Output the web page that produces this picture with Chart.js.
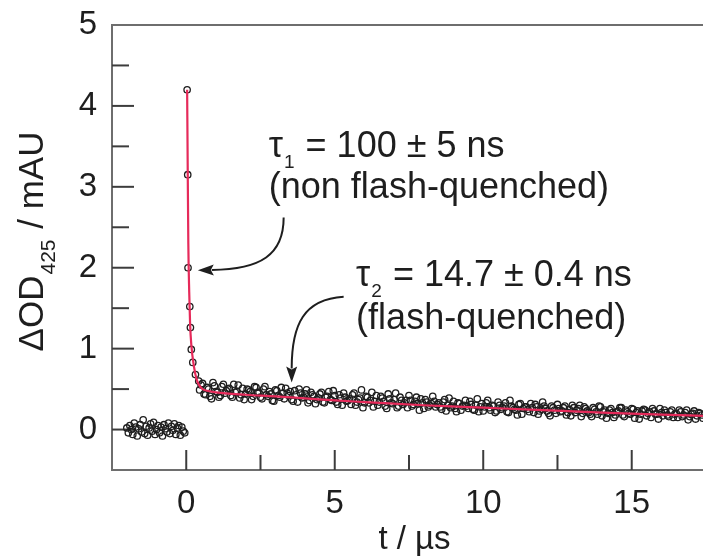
<!DOCTYPE html>
<html>
<head>
<meta charset="utf-8">
<title>Transient absorption decay at 425 nm</title>
<script src="https://cdn.jsdelivr.net/npm/chart.js@4.4.1/dist/chart.umd.min.js"></script>
<style>
  html, body { margin: 0; padding: 0; background: #fff; }
  #wrap { width: 703px; height: 558px; }
</style>
</head>
<body>
<div id="wrap"><canvas id="decay" width="703" height="558"></canvas></div>
<script>
// --- measured trace (t in µs, ΔOD in mAU) ---

// pre-flash baseline
const tBase = [
  -2.0, -1.95, -1.9, -1.85, -1.8, -1.75, -1.7, -1.65, -1.6, -1.55,
  -1.5, -1.45, -1.4, -1.35, -1.3, -1.25, -1.2, -1.15, -1.1, -1.05,
  -1.0, -0.95, -0.9, -0.85, -0.8, -0.75, -0.7, -0.65, -0.6, -0.55,
  -0.5, -0.45, -0.4, -0.35, -0.3, -0.25, -0.2, -0.15, -0.1, -0.05
];
const odBase = [
  0.02, -0.04, 0.05, 0.0, -0.06, 0.08, 0.03, -0.08, 0.01, 0.06,
  -0.03, 0.12, -0.05, 0.04, -0.07, 0.02, 0.07, -0.02, 0.09, -0.06,
  0.0, 0.05, -0.04, 0.03, -0.08, 0.06, 0.01, -0.03, 0.08, -0.05,
  0.04, -0.01, 0.07, -0.06, 0.02, 0.05, -0.07, 0.03, -0.02, -0.04
];

// fast component right after the flash
const tFast = [0.03, 0.05, 0.06, 0.12, 0.14, 0.17, 0.22, 0.31, 0.42];
const odFast = [4.2, 3.15, 2.0, 1.52, 1.26, 0.99, 0.83, 0.68, 0.6];

// slow tail, first channel (whole tenths)
const tTailA = [
  0.5, 0.6, 0.7, 0.8, 0.9, 1.0, 1.1, 1.2, 1.3, 1.4,
  1.5, 1.6, 1.7, 1.8, 1.9, 2.0, 2.1, 2.2, 2.3, 2.4,
  2.5, 2.6, 2.7, 2.8, 2.9, 3.0, 3.1, 3.2, 3.3, 3.4,
  3.5, 3.6, 3.7, 3.8, 3.9, 4.0, 4.1, 4.2, 4.3, 4.4,
  4.5, 4.6, 4.7, 4.8, 4.9, 5.0, 5.1, 5.2, 5.3, 5.4,
  5.5, 5.6, 5.7, 5.8, 5.9, 6.0, 6.1, 6.2, 6.3, 6.4,
  6.5, 6.6, 6.7, 6.8, 6.9, 7.0, 7.1, 7.2, 7.3, 7.4,
  7.5, 7.6, 7.7, 7.8, 7.9, 8.0, 8.1, 8.2, 8.3, 8.4,
  8.5, 8.6, 8.7, 8.8, 8.9, 9.0, 9.1, 9.2, 9.3, 9.4,
  9.5, 9.6, 9.7, 9.8, 9.9, 10.0, 10.1, 10.2, 10.3, 10.4,
  10.5, 10.6, 10.7, 10.8, 10.9, 11.0, 11.1, 11.2, 11.3, 11.4,
  11.5, 11.6, 11.7, 11.8, 11.9, 12.0, 12.1, 12.2, 12.3, 12.4,
  12.5, 12.6, 12.7, 12.8, 12.9, 13.0, 13.1, 13.2, 13.3, 13.4,
  13.5, 13.6, 13.7, 13.8, 13.9, 14.0, 14.1, 14.2, 14.3, 14.4,
  14.5, 14.6, 14.7, 14.8, 14.9, 15.0, 15.1, 15.2, 15.3, 15.4,
  15.5, 15.6, 15.7, 15.8, 15.9, 16.0, 16.1, 16.2, 16.3, 16.4,
  16.5, 16.6, 16.7, 16.8, 16.9, 17.0, 17.1, 17.2, 17.3, 17.4
];
const odTailA = [
  0.55, 0.44, 0.52, 0.41, 0.58, 0.47, 0.40, 0.53, 0.45, 0.50,
  0.42, 0.56, 0.47, 0.39, 0.51, 0.44, 0.49, 0.37, 0.53, 0.45,
  0.40, 0.50, 0.43, 0.47, 0.36, 0.49, 0.42, 0.52, 0.38, 0.45,
  0.47, 0.35, 0.43, 0.50, 0.39, 0.44, 0.33, 0.46, 0.41, 0.37,
  0.44, 0.34, 0.40, 0.47, 0.36, 0.42, 0.31, 0.39, 0.45, 0.35,
  0.38, 0.43, 0.30, 0.37, 0.49, 0.33, 0.40, 0.36, 0.28, 0.42,
  0.34, 0.39, 0.29, 0.44, 0.33, 0.37, 0.27, 0.40, 0.31, 0.36,
  0.42, 0.29, 0.35, 0.32, 0.38, 0.26, 0.34, 0.30, 0.41, 0.28,
  0.33, 0.25, 0.37, 0.30, 0.27, 0.35, 0.22, 0.32, 0.29, 0.36,
  0.26, 0.31, 0.24, 0.38, 0.28, 0.23, 0.33, 0.27, 0.30, 0.21,
  0.34, 0.25, 0.29, 0.22, 0.36, 0.27, 0.24, 0.31, 0.19, 0.28,
  0.25, 0.32, 0.21, 0.28, 0.23, 0.34, 0.26, 0.20, 0.29, 0.24,
  0.31, 0.22, 0.27, 0.18, 0.25, 0.30, 0.21, 0.26, 0.16, 0.28,
  0.23, 0.19, 0.27, 0.22, 0.29, 0.17, 0.24, 0.20, 0.26, 0.15,
  0.22, 0.27, 0.18, 0.24, 0.20, 0.26, 0.14, 0.23, 0.19, 0.25,
  0.17, 0.22, 0.26, 0.19, 0.13, 0.21, 0.24, 0.18, 0.22, 0.15,
  0.20, 0.24, 0.16, 0.21, 0.12, 0.19, 0.23, 0.17, 0.20, 0.14
];

// slow tail, second channel (half-tenth offsets)
const tTailB = [
  0.45, 0.55, 0.65, 0.75, 0.85, 0.95, 1.05, 1.15, 1.25, 1.35,
  1.45, 1.55, 1.65, 1.75, 1.85, 1.95, 2.05, 2.15, 2.25, 2.35,
  2.45, 2.55, 2.65, 2.75, 2.85, 2.95, 3.05, 3.15, 3.25, 3.35,
  3.45, 3.55, 3.65, 3.75, 3.85, 3.95, 4.05, 4.15, 4.25, 4.35,
  4.45, 4.55, 4.65, 4.75, 4.85, 4.95, 5.05, 5.15, 5.25, 5.35,
  5.45, 5.55, 5.65, 5.75, 5.85, 5.95, 6.05, 6.15, 6.25, 6.35,
  6.45, 6.55, 6.65, 6.75, 6.85, 6.95, 7.05, 7.15, 7.25, 7.35,
  7.45, 7.55, 7.65, 7.75, 7.85, 7.95, 8.05, 8.15, 8.25, 8.35,
  8.45, 8.55, 8.65, 8.75, 8.85, 8.95, 9.05, 9.15, 9.25, 9.35,
  9.45, 9.55, 9.65, 9.75, 9.85, 9.95, 10.05, 10.15, 10.25, 10.35,
  10.45, 10.55, 10.65, 10.75, 10.85, 10.95, 11.05, 11.15, 11.25, 11.35,
  11.45, 11.55, 11.65, 11.75, 11.85, 11.95, 12.05, 12.15, 12.25, 12.35,
  12.45, 12.55, 12.65, 12.75, 12.85, 12.95, 13.05, 13.15, 13.25, 13.35,
  13.45, 13.55, 13.65, 13.75, 13.85, 13.95, 14.05, 14.15, 14.25, 14.35,
  14.45, 14.55, 14.65, 14.75, 14.85, 14.95, 15.05, 15.15, 15.25, 15.35,
  15.45, 15.55, 15.65, 15.75, 15.85, 15.95, 16.05, 16.15, 16.25, 16.35,
  16.45, 16.55, 16.65, 16.75, 16.85, 16.95, 17.05, 17.15, 17.25, 17.35
];
const odTailB = [
  0.49, 0.57, 0.43, 0.50, 0.38, 0.54, 0.46, 0.42, 0.56, 0.48,
  0.51, 0.40, 0.46, 0.55, 0.43, 0.37, 0.50, 0.47, 0.41, 0.52,
  0.46, 0.38, 0.53, 0.41, 0.44, 0.35, 0.48, 0.40, 0.45, 0.51,
  0.42, 0.37, 0.48, 0.34, 0.45, 0.40, 0.49, 0.36, 0.43, 0.32,
  0.39, 0.46, 0.33, 0.41, 0.37, 0.48, 0.34, 0.43, 0.30, 0.40,
  0.36, 0.31, 0.45, 0.34, 0.39, 0.27, 0.41, 0.33, 0.46, 0.35,
  0.30, 0.41, 0.35, 0.26, 0.38, 0.32, 0.45, 0.29, 0.36, 0.33,
  0.27, 0.36, 0.31, 0.40, 0.24, 0.33, 0.37, 0.28, 0.32, 0.35,
  0.31, 0.28, 0.34, 0.23, 0.39, 0.29, 0.26, 0.33, 0.24, 0.30,
  0.29, 0.35, 0.25, 0.30, 0.22, 0.32, 0.28, 0.36, 0.24, 0.29,
  0.23, 0.30, 0.27, 0.33, 0.21, 0.29, 0.25, 0.18, 0.32, 0.26,
  0.28, 0.22, 0.27, 0.31, 0.19, 0.25, 0.29, 0.23, 0.17, 0.27,
  0.20, 0.26, 0.23, 0.29, 0.21, 0.17, 0.27, 0.24, 0.30, 0.20,
  0.26, 0.21, 0.16, 0.25, 0.19, 0.28, 0.22, 0.14, 0.24, 0.21,
  0.18, 0.23, 0.27, 0.16, 0.22, 0.19, 0.25, 0.21, 0.13, 0.23,
  0.24, 0.20, 0.15, 0.23, 0.19, 0.26, 0.17, 0.21, 0.16, 0.24,
  0.19, 0.15, 0.22, 0.18, 0.24, 0.16, 0.20, 0.13, 0.21, 0.18
];

// biexponential fit curve
const tFit = [0.03, 0.05, 0.07, 0.1, 0.13, 0.17, 0.25, 0.35, 0.45, 0.55, 0.7, 1, 2, 3, 4, 5, 6, 8, 10, 12, 14, 16, 17.4];
const odFit = [4.2, 3.2, 2.3, 1.7, 1.3, 1.05, 0.8, 0.62, 0.54, 0.5, 0.48, 0.46, 0.43, 0.41, 0.385, 0.36, 0.34, 0.30, 0.27, 0.24, 0.21, 0.185, 0.17];

// axis ranges and tick steps
const xRange = [-2.5, 17.4];
const yRange = [-0.5, 5];
const xStep = 2.5;
const yStep = 0.5;

// annotation text anchors (data units, left/baseline) and arrows [start, ctrl1, ctrl2, tip]
const tau1Anchor = [2.78, 3.37];
const tau1Note = [2.78, 2.86];
const tau2Anchor = [5.72, 1.77];
const tau2Note = [5.72, 1.24];
const arrowNonFQ = [[3.28, 2.62], [3.28, 2.16], [2.51, 1.98], [0.39, 1.97]];
const arrowFQ = [[5.30, 1.64], [3.96, 1.61], [3.55, 1.30], [3.55, 0.58]];

const FONT = '"Liberation Sans", Arial, Helvetica, sans-serif';
const INK = '#1e1e1e';
const FIT_RED = '#e62a5a';
const NOTE_SIZE = 36;

const pairs = (xs, ys) => xs.map((x, i) => ({ x, y: ys[i] }));

// text with a subscript run in the middle, returns the end x
function subText(ctx, x, y, main, sub, rest, size, subSize, drop) {
    ctx.font = `${size}px ${FONT}`;
    ctx.fillText(main, x, y);
    x += ctx.measureText(main).width + 1;
    ctx.font = `${subSize}px ${FONT}`;
    ctx.fillText(sub, x, y + drop);
    x += ctx.measureText(sub).width + 1;
    ctx.font = `${size}px ${FONT}`;
    ctx.fillText(rest, x, y);
    return x + ctx.measureText(rest).width;
}

function curvedArrow(ctx, xs, ys, pts) {
    const p = pts.map(([t, v]) => [xs.getPixelForValue(t), ys.getPixelForValue(v)]);
    const [s, c1, c2, tip] = p;
    const dx = tip[0] - c2[0], dy = tip[1] - c2[1];
    const d = Math.hypot(dx, dy);
    const ux = dx / d, uy = dy / d;
    const headLen = 16, headHalf = 5.5;
    const bx = tip[0] - ux * (headLen - 2), by = tip[1] - uy * (headLen - 2);

    ctx.beginPath();
    ctx.moveTo(s[0], s[1]);
    ctx.bezierCurveTo(c1[0], c1[1], c2[0], c2[1], bx, by);
    ctx.stroke();

    const hx = tip[0] - ux * headLen, hy = tip[1] - uy * headLen;
    ctx.beginPath();
    ctx.moveTo(tip[0], tip[1]);
    ctx.lineTo(hx - uy * headHalf, hy + ux * headHalf);
    ctx.lineTo(hx + ux * 3, hy + uy * 3);
    ctx.lineTo(hx + uy * headHalf, hy - ux * headHalf);
    ctx.closePath();
    ctx.fill();
}

const decorations = {
    id: 'decorations',
    beforeDatasetsDraw(chart) {
        const { ctx, chartArea: a, scales: { x, y } } = chart;
        ctx.save();

        // open frame: top, left and bottom (right edge runs off the page)
        ctx.strokeStyle = '#6e6e6e';
        ctx.lineWidth = 2;
        ctx.beginPath();
        ctx.moveTo(chart.width, a.top);
        ctx.lineTo(a.left, a.top);
        ctx.lineTo(a.left, a.bottom);
        ctx.lineTo(chart.width, a.bottom);
        ctx.stroke();

        // inward ticks, long on labelled values
        ctx.strokeStyle = '#3c3c3c';
        x.ticks.forEach(t => {
            if (t.value <= x.min || t.value >= x.max) return;
            const len = t.value % 5 === 0 ? 20 : 15;
            const px = x.getPixelForValue(t.value);
            ctx.beginPath();
            ctx.moveTo(px, a.bottom);
            ctx.lineTo(px, a.bottom - len);
            ctx.stroke();
        });
        y.ticks.forEach(t => {
            if (t.value <= y.min || t.value >= y.max) return;
            const len = Number.isInteger(t.value) ? 22 : 17;
            const py = y.getPixelForValue(t.value);
            ctx.beginPath();
            ctx.moveTo(a.left, py);
            ctx.lineTo(a.left + len, py);
            ctx.stroke();
        });
        ctx.restore();
    },
    afterDraw(chart) {
        const { ctx, chartArea: a, scales: { x, y } } = chart;
        ctx.save();
        ctx.fillStyle = INK;
        ctx.strokeStyle = INK;
        ctx.textBaseline = 'alphabetic';
        ctx.textAlign = 'left';

        // y title, rotated, with subscripted wavelength
        ctx.save();
        ctx.font = `35px ${FONT}`;
        let w = ctx.measureText('ΔOD').width + ctx.measureText(' / mAU').width;
        ctx.font = `21px ${FONT}`;
        w += ctx.measureText('425').width + 2;
        ctx.translate(a.left - 69, (a.top + a.bottom) / 2 - 6 + w / 2);
        ctx.rotate(-Math.PI / 2);
        subText(ctx, 0, 0, 'ΔOD', '425', ' / mAU', 35, 21, 12);
        ctx.restore();

        // x title
        ctx.font = `33px ${FONT}`;
        ctx.textAlign = 'center';
        ctx.fillText('t / µs', (a.left + a.right) / 2 + 7, a.bottom + 79);
        ctx.textAlign = 'left';

        // lifetime labels
        const at = ([t, v]) => [x.getPixelForValue(t), y.getPixelForValue(v)];
        let [lx, ly] = at(tau1Anchor);
        subText(ctx, lx, ly, 'τ', '1', ' = 100 ± 5 ns', NOTE_SIZE, 19, 11);
        [lx, ly] = at(tau1Note);
        ctx.font = `${NOTE_SIZE}px ${FONT}`;
        ctx.fillText('(non flash-quenched)', lx, ly);

        [lx, ly] = at(tau2Anchor);
        subText(ctx, lx, ly, 'τ', '2', ' = 14.7 ± 0.4 ns', NOTE_SIZE, 19, 11);
        [lx, ly] = at(tau2Note);
        ctx.font = `${NOTE_SIZE}px ${FONT}`;
        ctx.fillText('(flash-quenched)', lx, ly);

        ctx.lineWidth = 2;
        curvedArrow(ctx, x, y, arrowNonFQ);
        curvedArrow(ctx, x, y, arrowFQ);
        ctx.restore();
    }
};

const openCircle = {
    type: 'scatter',
    showLine: false,
    pointStyle: 'circle',
    pointRadius: 3.2,
    pointBorderWidth: 1.3,
    pointBorderColor: INK,
    pointBackgroundColor: 'rgba(0,0,0,0)'
};

new Chart(document.getElementById('decay'), {
    type: 'scatter',
    data: {
        datasets: [
            {
                label: 'Fit',
                type: 'line',
                data: pairs(tFit, odFit),
                borderColor: FIT_RED,
                borderWidth: 2.2,
                pointRadius: 0,
                fill: false,
                cubicInterpolationMode: 'monotone'
            },
            { label: 'Baseline', data: pairs(tBase, odBase), ...openCircle },
            { label: 'Fast', data: pairs(tFast, odFast), ...openCircle },
            { label: 'Tail A', data: pairs(tTailA, odTailA), ...openCircle },
            { label: 'Tail B', data: pairs(tTailB, odTailB), ...openCircle }
        ]
    },
    options: {
        responsive: false,
        animation: false,
        events: [],
        devicePixelRatio: 1,
        layout: {
            autoPadding: false,
            padding: { top: 25, right: 0, left: 0, bottom: 0 }
        },
        plugins: {
            legend: { display: false },
            tooltip: { enabled: false }
        },
        scales: {
            x: {
                type: 'linear',
                min: xRange[0],
                max: xRange[1],
                grid: { display: false, drawTicks: false },
                border: { display: false },
                afterFit: s => {
                    s.height = 88;
                    s.paddingLeft = 0;
                    s.paddingRight = 0;
                },
                ticks: {
                    stepSize: xStep,
                    includeBounds: false,
                    autoSkip: false,
                    maxRotation: 0,
                    padding: 14,
                    color: INK,
                    font: { family: FONT, size: 33 },
                    callback: v => (v >= 0 && v % 5 === 0 ? v : '')
                }
            },
            y: {
                type: 'linear',
                min: yRange[0],
                max: yRange[1],
                grid: { display: false, drawTicks: false },
                border: { display: false },
                afterFit: s => {
                    s.width = 112;
                    s.paddingTop = 0;
                    s.paddingBottom = 0;
                },
                ticks: {
                    stepSize: yStep,
                    includeBounds: false,
                    autoSkip: false,
                    padding: 15,
                    color: INK,
                    font: { family: FONT, size: 33 },
                    callback: v => (Number.isInteger(v) ? v : '')
                }
            }
        }
    },
    plugins: [decorations]
});
</script>
</body>
</html>
